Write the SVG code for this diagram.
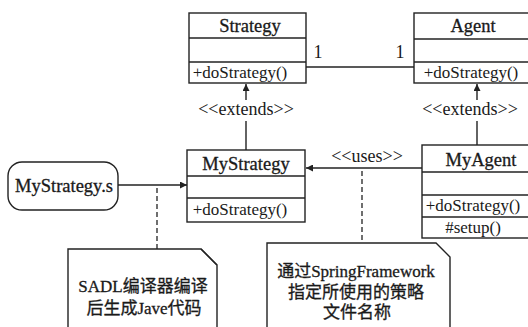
<svg xmlns="http://www.w3.org/2000/svg" width="528" height="327" viewBox="0 0 528 327">
<defs>
<style>
.box{fill:#fff;stroke:#222;stroke-width:1.4}
.ln{stroke:#222;stroke-width:1.4;fill:none}
.dash{stroke:#222;stroke-width:1.3;fill:none;stroke-dasharray:5 3}
.name{font-family:"Liberation Serif",serif;font-size:18.5px;fill:#1a1a1a;text-anchor:middle;stroke:#1a1a1a;stroke-width:0.3}
.op{font-family:"Liberation Serif",serif;font-size:17px;fill:#1a1a1a;text-anchor:middle}
.lbl{font-family:"Liberation Serif",serif;font-size:18px;fill:#1a1a1a;text-anchor:middle}
.note{font-family:"Liberation Serif","Noto Sans CJK SC",serif;font-size:17px;fill:#1a1a1a;text-anchor:middle;stroke:#1a1a1a;stroke-width:0.3}
</style>
<marker id="arr" viewBox="0 0 10 10" refX="10" refY="5" markerWidth="9" markerHeight="7" markerUnits="userSpaceOnUse" orient="auto">
<path d="M0,0 L10,5 L0,10 z" fill="#222"/>
</marker>
</defs>
<rect width="528" height="327" fill="#fff"/>
<g id="connectors">
<line class="ln" x1="306" y1="67" x2="414" y2="67"/>
<text class="lbl" x="318" y="58">1</text>
<text class="lbl" x="400" y="58">1</text>
<line class="ln" x1="246" y1="150" x2="246" y2="121"/>
<line class="ln" x1="246" y1="100" x2="246" y2="84" marker-end="url(#arr)"/>
<text class="lbl" x="246" y="115">&lt;&lt;extends&gt;&gt;</text>
<line class="ln" x1="477" y1="145" x2="477" y2="121"/>
<line class="ln" x1="477" y1="100" x2="477" y2="84" marker-end="url(#arr)"/>
<text class="lbl" x="470" y="115">&lt;&lt;extends&gt;&gt;</text>
<line class="ln" x1="422" y1="168" x2="306" y2="168" marker-end="url(#arr)"/>
<text class="lbl" x="367" y="162">&lt;&lt;uses&gt;&gt;</text>
<line class="ln" x1="118" y1="185" x2="187" y2="185" marker-end="url(#arr)"/>
<line class="dash" x1="157" y1="188" x2="157" y2="249"/>
<line class="dash" x1="362" y1="171" x2="362" y2="243"/>
</g>
<g id="Strategy">
<rect class="box" x="189" y="13" width="117" height="70"/>
<line class="ln" x1="189" y1="38" x2="306" y2="38"/>
<line class="ln" x1="189" y1="62" x2="306" y2="62"/>
<text class="name" x="250" y="32">Strategy</text>
<text class="op" x="240" y="78">+doStrategy()</text>
</g>
<g id="Agent">
<rect class="box" x="414" y="13" width="116" height="70"/>
<line class="ln" x1="414" y1="39" x2="530" y2="39"/>
<line class="ln" x1="414" y1="62" x2="530" y2="62"/>
<text class="name" x="473" y="32">Agent</text>
<text class="op" x="471" y="78">+doStrategy()</text>
</g>
<g id="MyStrategy">
<rect class="box" x="187" y="150" width="118" height="72"/>
<line class="ln" x1="187" y1="176" x2="305" y2="176"/>
<line class="ln" x1="187" y1="198" x2="305" y2="198"/>
<text class="name" x="246" y="170">MyStrategy</text>
<text class="op" x="240" y="215">+doStrategy()</text>
</g>
<g id="MyAgent">
<rect class="box" x="422" y="145" width="108" height="93"/>
<line class="ln" x1="422" y1="172" x2="530" y2="172"/>
<line class="ln" x1="422" y1="195" x2="530" y2="195"/>
<line class="ln" x1="422" y1="217" x2="530" y2="217"/>
<text class="name" x="481" y="166">MyAgent</text>
<text class="op" x="473" y="211">+doStrategy()</text>
<text class="op" x="473" y="233">#setup()</text>
</g>
<g id="MyStrategyS">
<rect class="box" x="8" y="162" width="110" height="48" rx="14" ry="14"/>
<text class="name" x="64" y="192">MyStrategy.s</text>
</g>
<g id="note1">
<path class="box" d="M68,330 L68,249 L201,249 L217,265 L217,330"/>
<line class="ln" x1="201" y1="249" x2="217" y2="265"/>
<text class="note" x="143" y="292">SADL编译器编译</text>
<text class="note" x="144" y="314">后生成Jave代码</text>
</g>
<g id="note2">
<path class="box" d="M267,330 L267,243 L436,243 L450,257 L450,330"/>
<text class="note" x="356" y="277">通过SpringFramework</text>
<text class="note" x="356" y="298">指定所使用的策略</text>
<text class="note" x="357" y="318">文件名称</text>
</g>
</svg>
